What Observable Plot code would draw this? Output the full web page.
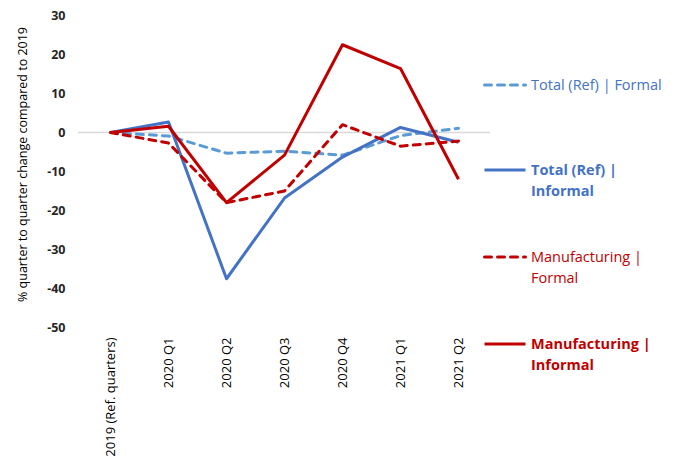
<!DOCTYPE html>
<html>
<head>
<meta charset="utf-8">
<script src="https://cdn.jsdelivr.net/npm/d3@7"></script>
<script src="https://cdn.jsdelivr.net/npm/@observablehq/plot@0.6"></script>
<style>
  html, body { margin: 0; padding: 0; background: #fff; }
  #wrap { position: relative; width: 686px; height: 462px; font-family: "Open Sans", "Noto Sans", sans-serif; }
  #legend { position: absolute; left: 0; top: 0; }
  .item { position: absolute; left: 483px; display: flex; align-items: flex-start; font-size: 14.5px; line-height: 21px; white-space: nowrap; }
  .item svg { margin-top: 9px; margin-right: 4px; flex: none; }
</style>
</head>
<body>
<div id="wrap"></div>
<script>
const categories = ["2019 (Ref. quarters)", "2020 Q1", "2020 Q2", "2020 Q3", "2020 Q4", "2021 Q1", "2021 Q2"];
const totalFormal = [0, -0.9, -5.3, -4.8, -5.8, -0.8, 1.1];
const totalInformal = [0, 2.7, -37.5, -16.8, -6.3, 1.3, -2.5];
const mfgFormal = [0, -2.7, -18, -15, 2, -3.5, -2.2];
const mfgInformal = [0, 1.6, -18, -5.8, 22.5, 16.4, -12];
const seriesNames = ["Total (Ref) | Formal", "Total (Ref) | Informal", "Manufacturing | Formal", "Manufacturing | Informal"];
const seriesValues = [totalFormal, totalInformal, mfgFormal, mfgInformal];
const seriesColors = ["#5B9BD5", "#4472C4", "#C00000", "#C00000"];
const textColors = ["#4472C4", "#4472C4", "#C00000", "#C00000"];
const seriesDash = ["7,6", null, "7,6", null];
const seriesBold = [false, true, false, true];
const legendLines = [["Total (Ref) | Formal"], ["Total (Ref) |", "Informal"], ["Manufacturing |", "Formal"], ["Manufacturing |", "Informal"]];
const legendTop = [74, 159, 246, 333];

const rows = seriesNames.map((name, i) => categories.map((c, j) => ({series: name, cat: c, value: seriesValues[i][j]})));

const chart = Plot.plot({
  width: 686,
  height: 462,
  marginLeft: 78,
  marginRight: 196,
  marginTop: 15,
  marginBottom: 135,
  style: {fontFamily: "'Open Sans', 'Noto Sans', sans-serif", background: "#fff"},
  x: {type: "point", domain: categories, padding: 0.5},
  y: {domain: [-50, 30]},
  marks: [
    Plot.ruleY([0], {stroke: "#D9D9D9", strokeWidth: 1.5}),
    ...rows.map((r, i) => Plot.lineY(r, {
      x: "cat", y: "value",
      stroke: seriesColors[i], strokeWidth: 3,
      strokeDasharray: seriesDash[i] || undefined,
      strokeLinecap: seriesDash[i] ? "round" : "butt",
      strokeLinejoin: "round"
    })),
    Plot.axisY({ticks: d3.range(-50, 31, 10), tickSize: 0, tickPadding: 13, fontSize: 12.5, fontWeight: "bold", fill: "#262626", tickFormat: d => d, label: null}),
    Plot.text(["% quarter to quarter change compared to 2019"], {frameAnchor: "left", textAnchor: "middle", rotate: -90, dx: -56, dy: -7, fontSize: 12.5, fill: "#000", text: d => d}),
    Plot.axisX({tickRotate: -90, tickSize: 0, tickPadding: 10, fontSize: 13, label: null})
  ]
});

const wrap = document.getElementById("wrap");
wrap.appendChild(chart);
const legend = document.createElement("div");
legend.id = "legend";
seriesNames.forEach((name, i) => {
  const item = document.createElement("div");
  item.className = "item";
  item.style.top = legendTop[i] + "px";
  item.style.color = textColors[i];
  item.style.fontWeight = seriesBold[i] ? "bold" : "normal";
  const ns = "http://www.w3.org/2000/svg";
  const sw = document.createElementNS(ns, "svg");
  sw.setAttribute("width", 44); sw.setAttribute("height", 4);
  const ln = document.createElementNS(ns, "line");
  ln.setAttribute("x1", 1.5); ln.setAttribute("x2", 42.5); ln.setAttribute("y1", 2); ln.setAttribute("y2", 2);
  ln.setAttribute("stroke", seriesColors[i]); ln.setAttribute("stroke-width", 3);
  if (seriesDash[i]) { ln.setAttribute("stroke-dasharray", seriesDash[i]); ln.setAttribute("stroke-linecap", "round"); }
  sw.appendChild(ln);
  item.appendChild(sw);
  const t = document.createElement("div");
  t.innerHTML = legendLines[i].join("<br>");
  item.appendChild(t);
  legend.appendChild(item);
});
wrap.appendChild(legend);
</script>
</body>
</html>
